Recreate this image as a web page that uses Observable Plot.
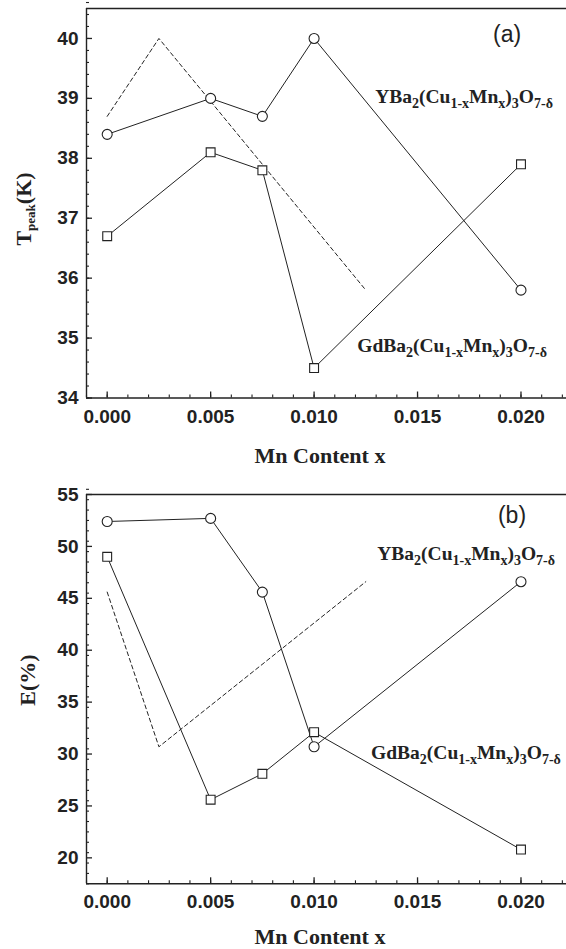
<!DOCTYPE html>
<html><head><meta charset="utf-8">
<script src="https://cdn.jsdelivr.net/npm/d3@7"></script>
<script src="https://cdn.jsdelivr.net/npm/@observablehq/plot@0.6"></script>
<style>
body{margin:0;background:#fff;}
#chart svg{display:block;}
</style></head><body><div id="chart"></div>
<script>
// ---------- data ----------
const mnContent = [0, 0.005, 0.0075, 0.010, 0.020];
const tpeakYBCO = [38.4, 39.0, 38.7, 40.0, 35.8];
const tpeakGdBCO = [36.7, 38.1, 37.8, 34.5, 37.9];
const tpeakDashX = [0, 0.0025, 0.0125];
const tpeakDashY = [38.7, 40.0, 35.8];
const effYBCO = [52.4, 52.7, 45.6, 30.7, 46.6];
const effGdBCO = [49.0, 25.6, 28.1, 32.1, 20.8];
const effDashX = [0, 0.0025, 0.0125];
const effDashY = [45.6, 30.7, 46.6];
const xTickValues = [0, 0.005, 0.010, 0.015, 0.020];
const tpeakTickValues = [34, 35, 36, 37, 38, 39, 40];
const effTickValues = [20, 25, 30, 35, 40, 45, 50, 55];
const xTitle = "Mn Content x";
const yFormula = [["YBa", 0], ["2", 1], ["(Cu", 0], ["1-x", 1], ["Mn", 0], ["x", 1], [")", 0], ["3", 1], ["O", 0], ["7-δ", 1]];
const gdFormula = [["GdBa", 0], ["2", 1], ["(Cu", 0], ["1-x", 1], ["Mn", 0], ["x", 1], [")", 0], ["3", 1], ["O", 0], ["7-δ", 1]];

const INK = "#222";
const SANS = "'Liberation Sans', Arial, sans-serif";
const SERIF = "'Liberation Serif', 'Times New Roman', serif";
const xDomain = [-0.001, 0.0222];
const xMinor = d3.range(-1, 23).map(i => i / 1000);

function rows(xs, ys) { return xs.map((x, i) => ({x, y: ys[i]})); }

function richText(parent, parts, x, y, main, sub, shift, anchor) {
  const t = parent.append("text").attr("x", x).attr("y", y)
    .attr("font-family", SERIF).attr("font-weight", "bold").attr("fill", INK)
    .attr("text-anchor", anchor || "start");
  let cur = 0;
  for (const [s, isSub] of parts) {
    const target = isSub ? shift : 0;
    t.append("tspan").attr("dy", target - cur).attr("font-size", isSub ? sub : main).text(s);
    cur = target;
  }
  return t;
}

function panel(cfg) {
  const n = Math.round((cfg.yDomain[1] - cfg.yDomain[0]) / cfg.yMinorStep);
  const yMinor = d3.range(0, n + 1).map(i => +(cfg.yDomain[0] + i * cfg.yMinorStep).toFixed(3));
  const y0 = cfg.yDomain[0], x0 = xDomain[0];
  const plot = Plot.plot({
    width: 566,
    height: cfg.height,
    marginTop: cfg.marginTop,
    marginBottom: cfg.marginBottom,
    marginLeft: 86,
    marginRight: 0,
    style: {background: "white", overflow: "visible"},
    x: {domain: xDomain},
    y: {domain: cfg.yDomain},
    marks: [
      // inward ticks (minor then major)
      Plot.ruleX(xMinor, {x: d => d, y1: y0, y2: y0, insetTop: -3, insetBottom: 0, stroke: INK, strokeWidth: 1.1}),
      Plot.ruleX(xTickValues, {x: d => d, y1: y0, y2: y0, insetTop: -6, insetBottom: 0, stroke: INK, strokeWidth: 1.3}),
      Plot.ruleY(yMinor, {y: d => d, x1: x0, x2: x0, insetLeft: 0, insetRight: -3, stroke: INK, strokeWidth: 1.1}),
      Plot.ruleY(cfg.yTicks, {y: d => d, x1: x0, x2: x0, insetLeft: 0, insetRight: -6, stroke: INK, strokeWidth: 1.3}),
      Plot.axisX({ticks: xTickValues, tickSize: 0, tickPadding: 11, tickFormat: d3.format(".3f"), label: null,
        fontSize: 19, fontWeight: "bold", fontFamily: SANS, fill: INK}),
      Plot.axisY({ticks: cfg.yTicks, tickSize: 0, tickPadding: 8, tickFormat: d3.format("d"), label: null,
        fontSize: 19, fontWeight: "bold", fontFamily: SANS, fill: INK}),
      Plot.ruleX([x0], {stroke: INK, strokeWidth: 1.4}),
      Plot.ruleY([y0], {stroke: INK, strokeWidth: 1.4}),
      Plot.ruleY([cfg.yDomain[1]], {stroke: INK, strokeWidth: 1.4}),
      Plot.line(rows(cfg.dashX, cfg.dashY), {x: "x", y: "y", stroke: INK, strokeWidth: 1, strokeDasharray: "4,3"}),
      Plot.line(rows(mnContent, cfg.ySeries), {x: "x", y: "y", stroke: INK, strokeWidth: 1}),
      Plot.line(rows(mnContent, cfg.gdSeries), {x: "x", y: "y", stroke: INK, strokeWidth: 1}),
      Plot.dot(rows(mnContent, cfg.ySeries), {x: "x", y: "y", r: 5, symbol: "circle", stroke: INK, fill: "white", strokeWidth: 1.1}),
      Plot.dot(rows(mnContent, cfg.gdSeries), {x: "x", y: "y", r: 5, symbol: "square", stroke: INK, fill: "white", strokeWidth: 1.1})
    ]
  });
  const svg = d3.select(plot);
  const sx = plot.scale("x"), sy = plot.scale("y");
  svg.append("text").attr("x", sx.apply(cfg.letterAt[0])).attr("y", sy.apply(cfg.letterAt[1]))
    .attr("font-family", SANS).attr("font-size", 23).attr("fill", INK).text(cfg.letter);
  richText(svg, yFormula, sx.apply(cfg.yLabelEnd[0]), sy.apply(cfg.yLabelEnd[1]), 19.5, 14, 5, "end");
  richText(svg, gdFormula, sx.apply(cfg.gdLabelEnd[0]), sy.apply(cfg.gdLabelEnd[1]), 19.5, 14, 5, "end");
  svg.append("text").attr("x", 320).attr("y", cfg.height - cfg.marginBottom + cfg.xTitleOffset)
    .attr("text-anchor", "middle").attr("font-family", SERIF).attr("font-weight", "bold")
    .attr("font-size", 22).attr("fill", INK).text(xTitle);
  const g = svg.append("g").attr("transform", `translate(${cfg.yTitleX},${cfg.yTitleY}) rotate(-90)`);
  richText(g, cfg.yTitle, 0, 0, 22, 13, 4, "middle");
  return plot;
}

const chart = document.getElementById("chart");
chart.appendChild(panel({
  height: 470, marginTop: 8, marginBottom: 72.5,
  yDomain: [34, 40.5], yTicks: tpeakTickValues, yMinorStep: 0.2,
  ySeries: tpeakYBCO, gdSeries: tpeakGdBCO, dashX: tpeakDashX, dashY: tpeakDashY,
  letter: "(a)", letterAt: [0.01935, 39.94],
  yLabelEnd: [0.02157, 38.91], gdLabelEnd: [0.02128, 34.76],
  xTitleOffset: 65, yTitleX: 31, yTitleY: 209,
  yTitle: [["T", 0], ["peak", 1], ["(K)", 0]]
}));
chart.appendChild(panel({
  height: 479, marginTop: 24, marginBottom: 65.7,
  yDomain: [17.5, 55], yTicks: effTickValues, yMinorStep: 1,
  ySeries: effYBCO, gdSeries: effGdBCO, dashX: effDashX, dashY: effDashY,
  letter: "(b)", letterAt: [0.01959, 52.2],
  yLabelEnd: [0.02167, 48.69], gdLabelEnd: [0.02195, 29.48],
  xTitleOffset: 61, yTitleX: 35, yTitleY: 210,
  yTitle: [["E(%)", 0]]
}));
</script></body></html>
